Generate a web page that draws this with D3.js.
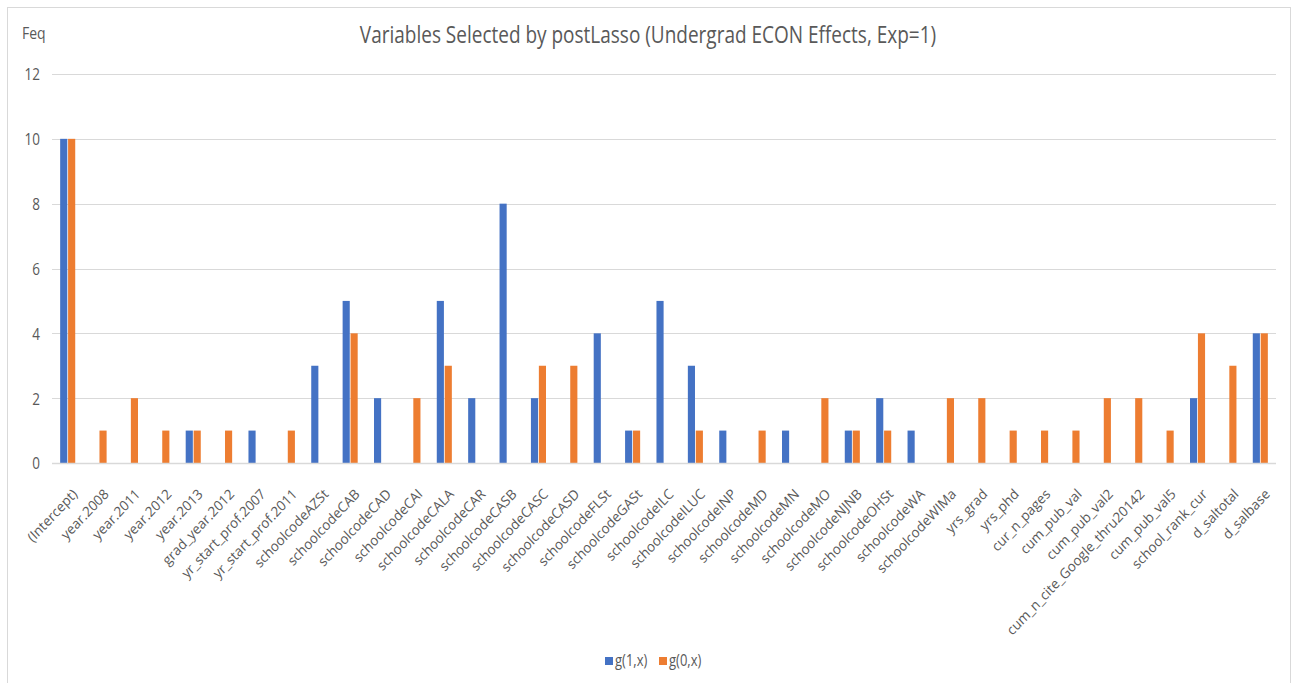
<!DOCTYPE html>
<html>
<head>
<meta charset="utf-8">
<script src="https://cdn.jsdelivr.net/npm/d3@7"></script>
<style>
  html, body { margin: 0; padding: 0; background: #fff; }
  svg { display: block; font-family: "Open Sans", "Noto Sans", sans-serif; }
</style>
</head>
<body>
<svg id="chart" width="1292" height="683"></svg>
<script>
// Variables and how often each was selected
const categories = [
  "(Intercept)", "year.2008", "year.2011", "year.2012", "year.2013", "grad_year.2012",
  "yr_start_prof.2007", "yr_start_prof.2011", "schoolcodeAZSt", "schoolcodeCAB",
  "schoolcodeCAD", "schoolcodeCAI", "schoolcodeCALA", "schoolcodeCAR", "schoolcodeCASB",
  "schoolcodeCASC", "schoolcodeCASD", "schoolcodeFLSt", "schoolcodeGASt", "schoolcodeILC",
  "schoolcodeILUC", "schoolcodeINP", "schoolcodeMD", "schoolcodeMN", "schoolcodeMO",
  "schoolcodeNJNB", "schoolcodeOHSt", "schoolcodeWA", "schoolcodeWIMa", "yrs_grad",
  "yrs_phd", "cur_n_pages", "cum_pub_val", "cum_pub_val2", "cum_n_cite_Google_thru20142",
  "cum_pub_val5", "school_rank_cur", "d_saltotal", "d_salbase"
];
const g1 = [10, 0, 0, 0, 1, 0, 1, 0, 3, 5, 2, 0, 5, 2, 8, 2, 0, 4, 1, 5,
            3, 1, 0, 1, 0, 1, 2, 1, 0, 0, 0, 0, 0, 0, 0, 0, 2, 0, 4];
const g0 = [10, 1, 2, 1, 1, 1, 0, 1, 0, 4, 0, 2, 3, 0, 0, 3, 3, 0, 1, 0,
            1, 0, 1, 0, 2, 1, 1, 0, 2, 2, 1, 1, 1, 2, 2, 1, 4, 3, 4];
const seriesNames = ["g(1,x)", "g(0,x)"];
const yTicks = [0, 2, 4, 6, 8, 10, 12];

const seriesColors = ["#4472C4", "#ED7D31"];
const textColor = "#595959";
const gridColor = "#D9D9D9";
// text is drawn slightly taller than wide
const tall = 1.2;

const svg = d3.select("#chart");

// chart frame
svg.append("rect")
  .attr("x", 7.5).attr("y", 7.5)
  .attr("width", 1283).attr("height", 690)
  .attr("fill", "#fff").attr("stroke", "#D9D9D9").attr("stroke-width", 1);

const plot = { left: 52, right: 1276, top: 74, bottom: 463 };

const x0 = d3.scaleBand()
  .domain(categories)
  .range([plot.left, plot.right])
  .paddingInner(0.52)
  .paddingOuter(0.26);

const x1 = d3.scaleBand()
  .domain(seriesNames)
  .range([0, x0.bandwidth()])
  .paddingInner(0.1);

const y = d3.scaleLinear().domain([0, 12]).range([plot.bottom, plot.top]);

// gridlines
svg.append("g").selectAll("line")
  .data(yTicks.filter(t => t > 0))
  .join("line")
  .attr("x1", plot.left).attr("x2", plot.right)
  .attr("y1", d => Math.round(y(d)) + 0.5).attr("y2", d => Math.round(y(d)) + 0.5)
  .attr("stroke", gridColor).attr("stroke-width", 1);

// y axis labels
const yAxis = d3.axisLeft(y).tickValues(yTicks).tickSize(0).tickPadding(12);
const yg = svg.append("g").attr("transform", `translate(${plot.left},0)`).call(yAxis);
yg.select(".domain").remove();
yg.selectAll("text")
  .attr("fill", textColor)
  .attr("dy", "0.36em")
  .attr("transform", `scale(1,${tall})`)
  .style("font-size", "13.5px")
  .style("font-family", "'Open Sans', sans-serif");

// bars
const rows = categories.map((c, i) => ({ cat: c, vals: [g1[i], g0[i]] }));
const groups = svg.append("g").selectAll("g")
  .data(rows)
  .join("g")
  .attr("transform", d => `translate(${x0(d.cat)},0)`);

groups.selectAll("rect")
  .data(d => d.vals.map((v, k) => ({ key: seriesNames[k], v, k })))
  .join("rect")
  .attr("x", d => x1(d.key))
  .attr("width", x1.bandwidth())
  .attr("y", d => y(d.v))
  .attr("height", d => y(0) - y(d.v))
  .attr("fill", d => seriesColors[d.k]);

// x axis baseline
svg.append("line")
  .attr("x1", plot.left).attr("x2", plot.right)
  .attr("y1", plot.bottom + 0.5).attr("y2", plot.bottom + 0.5)
  .attr("stroke", gridColor).attr("stroke-width", 1.5);

// x axis labels, rotated
const xAxis = d3.axisBottom(x0).tickSize(0).tickPadding(0);
const xg = svg.append("g").attr("transform", `translate(0,${plot.bottom})`).call(xAxis);
xg.select(".domain").remove();
xg.selectAll("text")
  .attr("fill", textColor)
  .style("font-size", "13.3px")
  .style("font-family", "'Open Sans', sans-serif")
  .attr("text-anchor", "end")
  .attr("dy", null)
  .attr("y", 0)
  .attr("transform", "translate(10.5,32) scale(1,1.06) rotate(-45)");

// title
svg.append("text")
  .attr("transform", `translate(648,43) scale(1,${tall})`)
  .attr("text-anchor", "middle")
  .attr("fill", textColor)
  .style("font-size", "19px")
  .text("Variables Selected by postLasso (Undergrad ECON Effects, Exp=1)");

// y axis title
svg.append("text")
  .attr("transform", `translate(22,39) scale(1,${tall})`)
  .attr("fill", textColor)
  .style("font-size", "14px")
  .text("Feq");

// legend
const legend = svg.append("g").attr("transform", "translate(605,657)");
const legendItems = legend.selectAll("g")
  .data(seriesNames)
  .join("g")
  .attr("transform", (d, i) => `translate(${i * 54},0)`);
legendItems.append("rect")
  .attr("width", 8).attr("height", 8)
  .attr("fill", (d, i) => seriesColors[i]);
legendItems.append("text")
  .attr("transform", `translate(10,9) scale(1,${tall})`)
  .attr("fill", textColor)
  .style("font-size", "13px")
  .text(d => d);
</script>
</body>
</html>
